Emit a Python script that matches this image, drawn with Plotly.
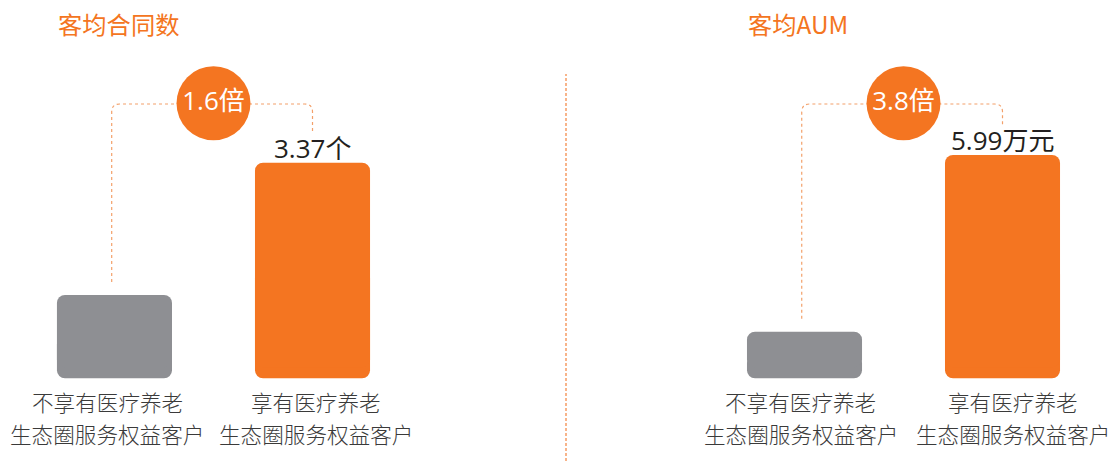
import plotly.graph_objects as go

# ---------------- data ----------------
categories = ["不享有医疗养老生态圈服务权益客户", "享有医疗养老生态圈服务权益客户"]
cat_line1 = ["不享有医疗养老", "享有医疗养老"]
cat_line2 = ["生态圈服务权益客户", "生态圈服务权益客户"]

contract_values = [2.11, 3.37]      # 客均合同数 (个)
aum_values = [1.58, 5.99]           # 客均AUM (万元)
contract_ratio = "1.6倍"
aum_ratio = "3.8倍"
contract_label = "3.37个"
aum_label = "5.99万元"
titles = ["客均合同数", "客均AUM"]

# ---------------- style ----------------
ORANGE = "#F47521"
GRAY = "#8E8F93"
DOT = "#F3A06A"
TXT = "#3A3A3A"
W, H = 1113, 461
CJK = "Noto Sans CJK SC"
NUM = "Open Sans, Noto Sans CJK SC"

panels = [
    dict(vals=contract_values, ratio=contract_ratio, label=contract_label, title=titles[0],
         xaxis="x", yaxis="y", dom=[0, 0.5], xr=[-0.578, 2.232], yr=[0.529, 4.92], base=1.317,
         lab_shift=[-7, 3]),
    dict(vals=aum_values, ratio=aum_ratio, label=aum_label, title=titles[1],
         xaxis="x2", yaxis="y2", dom=[0.5, 1], xr=[-1.2525, 1.558], yr=[-1.647, 9.858], base=0.417,
         lab_shift=[-4, 10]),
]

fig = go.Figure()
shapes = []
annotations = []
xpos = list(range(len(categories)))
BW = 0.581
RAD = 8

for k, p in enumerate(panels):
    r0, r1 = p["yr"]
    upp = (r1 - r0) / H  # value per pixel
    def pv(px, r1=r1, upp=upp):
        return r1 - px * upp
    xpp = (p["xr"][1] - p["xr"][0]) / (W * (p["dom"][1] - p["dom"][0]))
    colors = [GRAY, ORANGE]
    b = p["base"]
    # lower part: negative bar from the middle down to the base (rounded bottom)
    mids = [(b + v) / 2 for v in p["vals"]]
    fig.add_trace(go.Bar(x=xpos, y=[-(m - b) for m in mids], base=mids,
                         width=BW, marker=dict(color=colors, cornerradius=RAD, line=dict(width=0)),
                         xaxis=p["xaxis"], yaxis=p["yaxis"], showlegend=False, hoverinfo="skip"))
    # upper part: from just above the base's rounding to the value (rounded top)
    ub = b + (RAD + 3) * upp
    fig.add_trace(go.Bar(x=xpos, y=[v - ub for v in p["vals"]], base=[ub] * len(xpos),
                         width=BW, marker=dict(color=colors, cornerradius=RAD, line=dict(width=0)),
                         xaxis=p["xaxis"], yaxis=p["yaxis"], showlegend=False, hoverinfo="skip"))

    # connector
    xa, ya = p["xaxis"], p["yaxis"]
    rx = 8 * xpp
    ry = 8 * upp
    y_h = pv(104)
    gray_top_px = (r1 - p["vals"][0]) / upp
    org_top_px = (r1 - p["vals"][1]) / upp
    y_l_end = pv(gray_top_px - 13)
    y_r_end = pv(org_top_px - 30)
    path = (f"M {xpos[0]-0.014},{y_l_end} L {xpos[0]-0.014},{y_h - ry} "
            f"Q {xpos[0]-0.014},{y_h} {xpos[0]-0.014+rx},{y_h} "
            f"L {xpos[1]-rx},{y_h} Q {xpos[1]},{y_h} {xpos[1]},{y_h - ry} "
            f"L {xpos[1]},{y_r_end}")
    shapes.append(dict(type="path", path=path, xref=xa, yref=ya,
                       line=dict(color=DOT, width=1.2, dash="dot"), layer="below"))

    # ratio circle
    cx = (xpos[0] + xpos[1]) / 2
    fig.add_trace(go.Scatter(x=[cx], y=[pv(103.3)], mode="markers+text",
                             marker=dict(size=74, color=ORANGE, line=dict(width=0)),
                             text=[p["ratio"]], textposition="middle center",
                             textfont=dict(family=NUM, size=26, color="white"),
                             xaxis=xa, yaxis=ya, showlegend=False, hoverinfo="skip"))

    # value label
    annotations.append(dict(x=xpos[1], y=p["vals"][1], xref=xa, yref=ya, text=p["label"],
                            showarrow=False, yanchor="middle", yshift=14.5,
                            font=dict(family=NUM, size=26, color="#231F20")))
    # category labels
    for i in xpos:
        for txt, ypx in ((cat_line1[i], 401), (cat_line2[i], 433)):
            annotations.append(dict(x=i, y=1 - ypx / H, xref=xa, yref="paper", text=txt,
                                    showarrow=False, yanchor="middle", xshift=p["lab_shift"][i],
                                    font=dict(family=CJK, size=21.6, color=TXT, weight=300)))
    # title
    tx = [56, 746][k]
    annotations.append(dict(x=tx / W, y=1 - 24 / H, xref="paper", yref="paper", text=p["title"],
                            showarrow=False, xanchor="left", yanchor="middle",
                            font=dict(family=CJK, size=24.3, color=ORANGE)))

# separator
shapes.append(dict(type="line", xref="paper", yref="paper", x0=566 / W, x1=566 / W,
                   y0=0, y1=1 - 74 / H, line=dict(color="#F8B48A", width=2, dash="3px,2px")))

layout_axes = {}
for k, p in enumerate(panels):
    sx = "" if k == 0 else "2"
    layout_axes["xaxis" + sx] = dict(domain=p["dom"], range=p["xr"], showgrid=False, zeroline=False,
                                     showticklabels=False, showline=False, fixedrange=True)
    layout_axes["yaxis" + sx] = dict(domain=[0, 1], range=p["yr"], showgrid=False, zeroline=False,
                                     showticklabels=False, showline=False, fixedrange=True,
                                     anchor="x" + sx)
layout_axes["xaxis2"]["anchor"] = "y2"

fig.update_layout(width=W, height=H, margin=dict(l=0, r=0, t=0, b=0),
                  paper_bgcolor="white", plot_bgcolor="white", barmode="overlay",
                  shapes=shapes, annotations=annotations, showlegend=False, **layout_axes)

fig.write_html("out.html", config={"displayModeBar": False})
